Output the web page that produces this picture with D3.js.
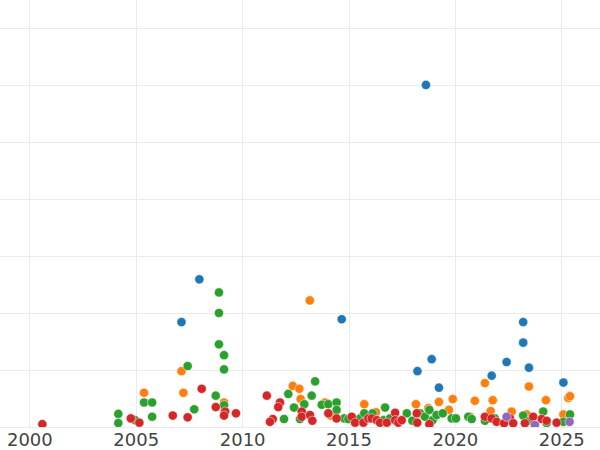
<!DOCTYPE html>
<html>
<head>
<meta charset="utf-8">
<script src="https://cdn.jsdelivr.net/npm/d3@7"></script>
<style>
  body { margin: 0; background: #fff; }
  .axis text { font-family: "DejaVu Sans", sans-serif; font-size: 18px; fill: #444; }
</style>
</head>
<body>
<div id="chart"></div>
<script>
// year ticks shown along the bottom
var yearTicks = [2000, 2005, 2010, 2015, 2020, 2025];
var gridLevels = [0, 1, 2, 3, 4, 5, 6, 7];

// each series: [years after 2000, value]
var blueSeries = [
  [18.64, 6.0], [7.99, 2.59], [7.15, 1.84], [14.68, 1.89], [23.21, 1.84], [23.21, 1.48],
  [18.91, 1.19], [18.24, 0.98], [22.43, 1.14], [23.48, 1.04], [21.73, 0.90], [19.25, 0.69],
  [25.10, 0.78]
];
var orangeSeries = [
  [5.39, 0.60], [7.24, 0.60], [7.15, 0.98], [9.15, 0.43], [13.18, 2.22], [12.38, 0.72],
  [12.69, 0.67], [12.75, 0.49], [13.90, 0.43], [14.15, 0.20], [15.74, 0.40], [16.29, 0.26],
  [18.17, 0.40], [18.75, 0.33], [19.25, 0.44], [19.90, 0.49], [19.72, 0.30], [20.71, 0.18],
  [20.94, 0.46], [21.41, 0.77], [21.78, 0.47], [21.68, 0.28], [22.67, 0.27], [23.37, 0.22],
  [23.48, 0.71], [24.28, 0.47], [25.33, 0.51], [25.41, 0.54], [25.10, 0.22]
];
var greenSeries = [
  [4.18, 0.23], [4.18, 0.07], [4.97, 0.12], [5.39, 0.43], [5.77, 0.43], [5.77, 0.18],
  [7.44, 1.07], [7.75, 0.31], [8.91, 2.36], [8.91, 2.0], [8.91, 1.45], [9.15, 1.26],
  [9.15, 1.01], [8.76, 0.55], [9.15, 0.38], [11.97, 0.14], [12.17, 0.58], [12.44, 0.34],
  [12.72, 0.14], [12.92, 0.40], [13.27, 0.55], [13.43, 0.80], [13.74, 0.39], [14.05, 0.40],
  [14.44, 0.43], [14.44, 0.30], [14.80, 0.15], [14.99, 0.14], [15.54, 0.15], [15.74, 0.24],
  [16.13, 0.24], [16.72, 0.34], [16.64, 0.12], [16.95, 0.15], [17.74, 0.24], [18.0, 0.11],
  [18.36, 0.24], [18.59, 0.18], [18.80, 0.30], [18.95, 0.12], [19.14, 0.21], [19.43, 0.24],
  [19.85, 0.15], [20.05, 0.15], [20.63, 0.18], [20.79, 0.14], [21.41, 0.11], [21.88, 0.15],
  [23.21, 0.20], [23.53, 0.11], [24.15, 0.27], [24.31, 0.07], [25.41, 0.22], [25.10, 0.09]
];
var redSeries = [
  [0.61, 0.05], [4.77, 0.15], [5.17, 0.075], [6.74, 0.20], [7.44, 0.17], [8.10, 0.67],
  [8.76, 0.35], [9.20, 0.27], [9.15, 0.20], [9.71, 0.24], [11.16, 0.55], [11.78, 0.43],
  [11.70, 0.35], [11.44, 0.14], [11.31, 0.09], [12.80, 0.27], [12.80, 0.18], [13.19, 0.21],
  [13.30, 0.11], [14.05, 0.24], [14.44, 0.15], [15.15, 0.18], [15.31, 0.075], [15.70, 0.075],
  [15.93, 0.15], [16.09, 0.15], [16.33, 0.12], [16.48, 0.075], [16.80, 0.075], [17.19, 0.25],
  [17.19, 0.12], [17.34, 0.075], [17.50, 0.12], [18.21, 0.24], [18.23, 0.075], [18.80, 0.05],
  [21.41, 0.18], [21.73, 0.15], [21.96, 0.09], [22.59, 0.15], [22.31, 0.065], [22.74, 0.065],
  [23.29, 0.065], [23.68, 0.18], [24.08, 0.14], [24.31, 0.11], [24.78, 0.075]
];
var purpleSeries = [
  [22.43, 0.18], [23.76, 0.035], [25.39, 0.09]
];

var seriesList = [
  { name: "blue", color: "#1f77b4", points: blueSeries },
  { name: "orange", color: "#ff7f0e", points: orangeSeries },
  { name: "green", color: "#2ca02c", points: greenSeries },
  { name: "red", color: "#d62728", points: redSeries },
  { name: "purple", color: "#9467bd", points: purpleSeries }
];

var width = 600, height = 450;
var plotBottom = 427;

var svg = d3.select("#chart").append("svg")
  .attr("width", width).attr("height", height);

var xScale = d3.scaleLinear().domain([1998.62, 2026.82]).range([0, width]);
var yScale = d3.scaleLinear().domain([0, 7.49]).range([plotBottom, 0]);

svg.append("clipPath").attr("id", "plot-clip")
  .append("rect").attr("x", 0).attr("y", 0).attr("width", width).attr("height", plotBottom);

var grid = svg.append("g").attr("class", "grid");
grid.selectAll(".hgrid").data(gridLevels).enter().append("line")
  .attr("x1", 0).attr("x2", width)
  .attr("y1", function(d) { return Math.round(yScale(d)) + 0.5; })
  .attr("y2", function(d) { return Math.round(yScale(d)) + 0.5; })
  .attr("stroke", "#ebebeb").attr("stroke-width", 1);
grid.selectAll(".vgrid").data(yearTicks).enter().append("line")
  .attr("y1", 0).attr("y2", plotBottom)
  .attr("x1", function(d) { return Math.round(xScale(d)) + 0.5; })
  .attr("x2", function(d) { return Math.round(xScale(d)) + 0.5; })
  .attr("stroke", "#ebebeb").attr("stroke-width", 1);

var dots = svg.append("g").attr("clip-path", "url(#plot-clip)");
seriesList.forEach(function(s) {
  dots.append("g").attr("class", "series-" + s.name)
    .selectAll("circle").data(s.points).enter().append("circle")
    .attr("cx", function(d) { return xScale(2000 + d[0]); })
    .attr("cy", function(d) { return yScale(d[1]); })
    .attr("r", 4.6)
    .attr("fill", s.color)
    .attr("stroke", "#fff")
    .attr("stroke-width", 0.5);
});

var xAxis = d3.axisBottom(xScale)
  .tickValues(yearTicks)
  .tickFormat(d3.format("d"))
  .tickSize(0)
  .tickPadding(6);

var axisG = svg.append("g")
  .attr("class", "axis x")
  .attr("transform", "translate(0," + plotBottom + ")")
  .call(xAxis);
axisG.select(".domain").remove();
</script>
</body>
</html>
